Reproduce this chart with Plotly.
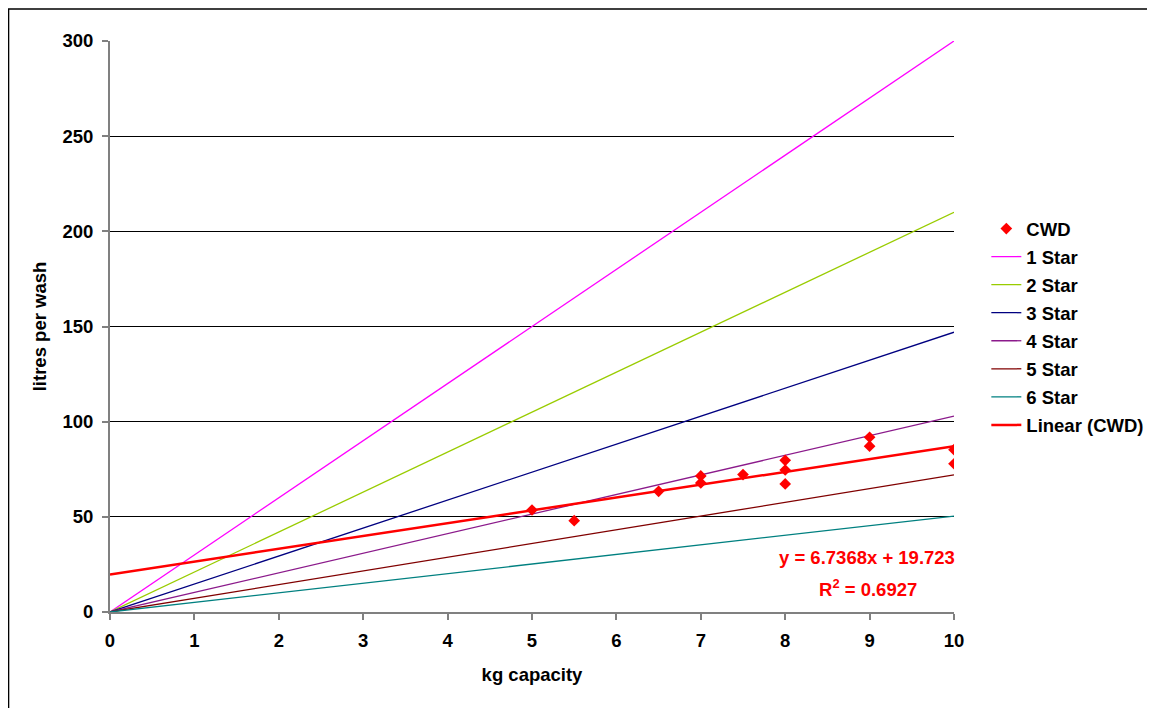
import plotly.graph_objects as go

# ---- data ----
cwd_x = [5, 5.5, 6.5, 7, 7, 7.5, 8, 8, 8, 9, 9, 10, 10]
cwd_y = [53.6, 48.0, 63.4, 71.5, 67.8, 72.2, 79.7, 74.6, 67.3, 91.8, 87.1, 85.3, 77.9]

star_x = [0, 1, 2, 3, 4, 5, 6, 7, 8, 9, 10]
star_names = ["1 Star", "2 Star", "3 Star", "4 Star", "5 Star", "6 Star"]
star_1 = [0, 30, 60, 90, 120, 150, 180, 210, 240, 270, 300]
star_2 = [0, 21, 42, 63, 84, 105, 126, 147, 168, 189, 210]
star_3 = [0, 14.7, 29.4, 44.1, 58.8, 73.5, 88.2, 102.9, 117.6, 132.3, 147]
star_4 = [0, 10.3, 20.6, 30.9, 41.2, 51.5, 61.7, 72.0, 82.3, 92.6, 102.9]
star_5 = [0, 7.2, 14.4, 21.6, 28.8, 36.0, 43.2, 50.4, 57.6, 64.8, 72.0]
star_6 = [0, 5.0, 10.1, 15.1, 20.2, 25.2, 30.3, 35.3, 40.3, 45.4, 50.4]
star_values = [star_1, star_2, star_3, star_4, star_5, star_6]
star_colors = ["#FF00FF", "#99CC00", "#000080", "#8B1A8B", "#800000", "#008080"]

trend_slope = 6.7368
trend_intercept = 19.723
trend_r2 = 0.6927
trend_x = [0, 10]

y_ticks = [0, 50, 100, 150, 200, 250, 300]
x_ticks = [0, 1, 2, 3, 4, 5, 6, 7, 8, 9, 10]

FONT = "Arial, 'Liberation Sans', sans-serif"
FS = 18.5

fig = go.Figure()

for i, (name, vals) in enumerate(zip(star_names, star_values)):
    fig.add_trace(go.Scatter(
        x=star_x, y=vals, mode="lines", name=name,
        line=dict(color=star_colors[i], width=1.3),
        legendrank=2 + i, legendgroup=name,
    ))

trend_y = [trend_slope * xv + trend_intercept for xv in trend_x]
fig.add_trace(go.Scatter(
    x=trend_x, y=trend_y, mode="lines", name="Linear (CWD)",
    line=dict(color="#FF0000", width=2.5),
    legendrank=20, legendgroup="lin",
))

fig.add_trace(go.Scatter(
    x=cwd_x, y=cwd_y, mode="markers", name="CWD",
    marker=dict(symbol="diamond", color="#FF0000", size=9),
    legendrank=1, legendgroup="cwd",
))

fig.add_annotation(
    x=10, y=28.4, xref="x", yref="y", xanchor="right", yanchor="middle",
    xshift=3,
    text=f"y = {trend_slope}x + {trend_intercept}", showarrow=False,
    font=dict(family=FONT, size=FS, color="#FF0000", weight="bold"),
)
fig.add_annotation(
    x=8.97, y=12.6, xref="x", yref="y", xanchor="center", yanchor="middle",
    xshift=1,
    text=f"R<sup>2</sup> = {trend_r2}", showarrow=False,
    font=dict(family=FONT, size=FS, color="#FF0000", weight="bold"),
)

# outer chart border (top and left visible)
fig.add_shape(type="rect", xref="paper", yref="paper",
              x0=-0.1202, x1=1.3, y0=-0.25, y1=1.0560,
              line=dict(color="#000000", width=1.5), layer="below")

fig.update_layout(
    width=1147, height=700,
    margin=dict(l=102, r=201, t=33, b=96, autoexpand=False),
    paper_bgcolor="white", plot_bgcolor="white",
    font=dict(family=FONT, size=FS, color="#000000", weight="bold"),
    showlegend=True,
    legend=dict(
        x=1.0383, y=0.7040, xanchor="left", yanchor="top",
        font=dict(family=FONT, size=FS, weight="bold"),
        traceorder="grouped", tracegroupgap=1,
        bgcolor="rgba(0,0,0,0)",
    ),
    xaxis=dict(
        range=[0, 10], tickvals=x_ticks, ticktext=[str(v) for v in x_ticks],
        showgrid=False, zeroline=False,
        showline=True, linecolor="#808080", linewidth=2,
        ticks="outside", ticklen=6, tickcolor="#808080", tickwidth=2,
        ticklabelstandoff=5,
        title=dict(text="kg capacity", standoff=18,
                   font=dict(family=FONT, size=FS, weight="bold")),
    ),
    yaxis=dict(
        range=[0, 300], tickvals=y_ticks, ticktext=[str(v) for v in y_ticks],
        showgrid=True, gridcolor="#000000", gridwidth=1,
        zeroline=False,
        showline=True, linecolor="#808080", linewidth=2,
        ticks="outside", ticklen=6, tickcolor="#808080", tickwidth=2,
        ticklabelstandoff=5,
        title=dict(text="litres per wash", standoff=11,
                   font=dict(family=FONT, size=FS, weight="bold")),
    ),
)

fig.write_html("out.html")
